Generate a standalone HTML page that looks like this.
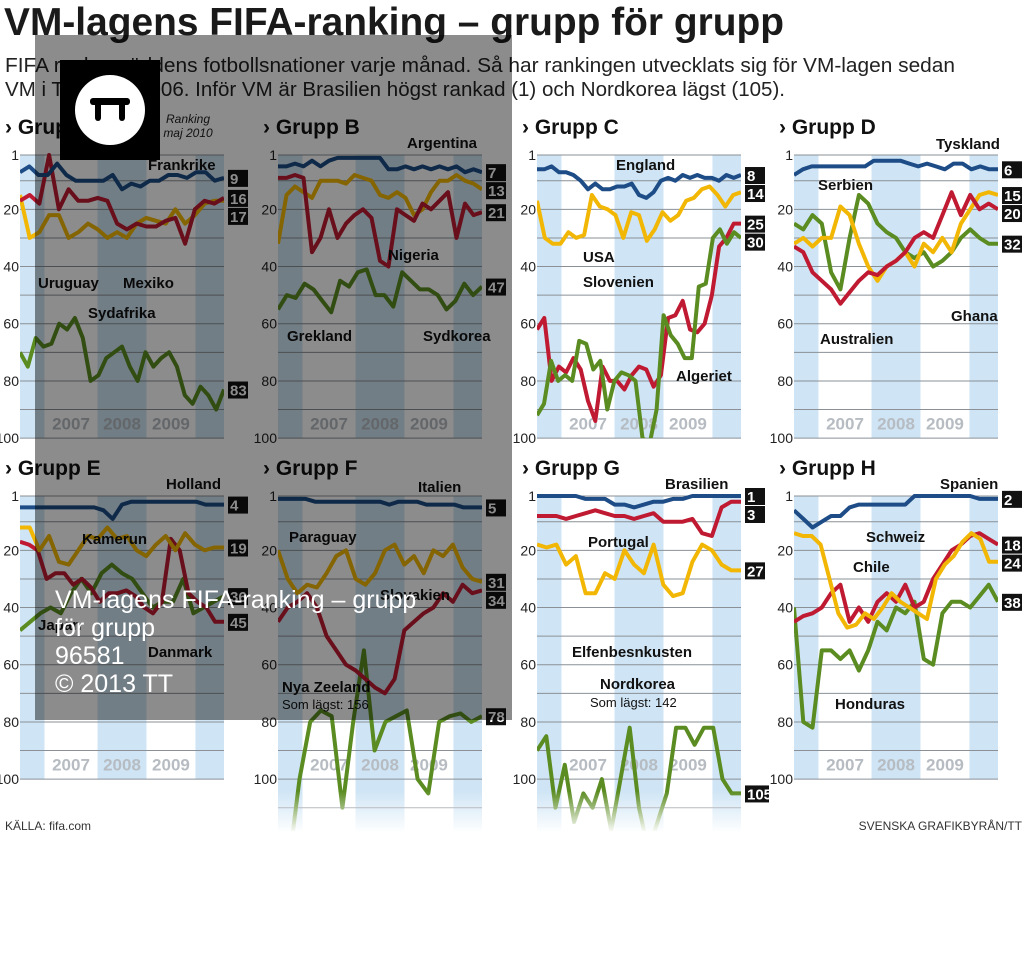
<!DOCTYPE html>
<html><head><meta charset="utf-8"><style>
body{margin:0;background:#fff;}
svg{display:block;}
.t{font-family:"Liberation Sans Narrow","Liberation Sans",sans-serif;font-weight:bold;}
</style></head><body>
<svg id="s" width="1024" height="963" xmlns="http://www.w3.org/2000/svg">
<defs><linearGradient id="fade" x1="0" y1="0" x2="0" y2="1"><stop offset="0" stop-color="#fff" stop-opacity="0"/><stop offset="1" stop-color="#fff" stop-opacity="1"/></linearGradient></defs>
<text x="4" y="35" font-family="Liberation Sans,sans-serif" font-weight="bold" font-size="39" fill="#1a1a1a" textLength="780" lengthAdjust="spacingAndGlyphs">VM-lagens FIFA-ranking – grupp för grupp</text>
<text x="5" y="72" font-family="Liberation Sans,sans-serif" font-size="20" fill="#222" textLength="950" lengthAdjust="spacingAndGlyphs">FIFA rankar världens fotbollsnationer varje månad. Så har rankingen utvecklats sig för VM-lagen sedan</text>
<text x="5" y="96" font-family="Liberation Sans,sans-serif" font-size="20" fill="#222" textLength="780" lengthAdjust="spacingAndGlyphs">VM i Tyskland 2006. Inför VM är Brasilien högst rankad (1) och Nordkorea lägst (105).</text>
<g id="g"></g>
<text x="5" y="830" font-family="Liberation Sans,sans-serif" font-size="12" fill="#333">KÄLLA: fifa.com</text>
<text x="1022" y="830" text-anchor="end" font-family="Liberation Sans,sans-serif" font-size="12" fill="#333">SVENSKA GRAFIKBYRÅN/TT</text>
<rect x="35" y="35" width="477" height="685" fill="#000" fill-opacity="0.45"/>
<rect x="60" y="60" width="100" height="100" fill="#000"/>
<circle cx="110" cy="110" r="35" fill="#fff"/>
<rect x="90" y="98" width="40" height="7" rx="3" fill="#000"/>
<rect x="95" y="101" width="6" height="20" rx="3" fill="#000"/>
<rect x="119" y="101" width="6" height="20" rx="3" fill="#000"/>
<g font-family="Liberation Sans,sans-serif" font-size="25" fill="#fff">
<text x="55" y="608">VM-lagens FIFA-ranking – grupp</text>
<text x="55" y="636">för grupp</text>
<text x="55" y="664">96581</text>
<text x="55" y="692">© 2013 TT</text></g>
</svg>
<script>
const C={b:"#1d4c86",r:"#bf1a32",y:"#f2b705",g:"#5b8c21"};
const P=[
{n:"A",x:20,y:0,ext:0,s:[
["y",[15,30,28,22,22,30,28,25,27,30,28,30,25,23,24,25,20,25,22,18,17,17]],
["r",[17,15,18,1,20,13,17,17,16,17,25,27,25,26,26,24,23,32,20,17,18,16]],
["b",[7,5,8,8,4,8,10,10,10,10,8,13,11,12,10,10,8,8,9,7,7,10,9]],
["g",[70,75,65,68,67,60,62,58,65,80,78,72,70,68,75,80,70,75,72,70,75,85,88,82,85,90,83]]],
L:[[9,"b"],[16,"r"],[17,"y"],[83,"g"]],
T:[["Frankrike",148,170],["Uruguay",38,288],["Mexiko",123,288],["Sydafrika",88,318]]},
{n:"B",x:278,y:0,ext:0,s:[
["y",[32,15,12,14,16,10,10,10,11,8,9,10,15,16,14,16,22,20,14,10,10,8,10,11,13]],
["r",[9,9,8,9,35,30,20,30,25,22,20,23,38,40,20,22,24,18,20,17,14,30,18,22,21]],
["b",[5,5,4,5,3,5,3,2,2,2,2,2,2,6,6,5,6,5,6,5,6,5,7,6,7]],
["g",[55,50,51,46,48,52,56,45,47,42,41,50,50,54,42,45,48,48,50,55,52,46,50,47]]],
L:[[7,"b"],[13,"y"],[21,"r"],[47,"g"]],
T:[["Argentina",407,148],["Grekland",287,341],["Nigeria",388,260],["Sydkorea",423,341]]},
{n:"C",x:537,y:0,ext:0,s:[
["r",[62,58,80,75,77,72,76,87,94,75,80,80,83,78,75,76,82,78,58,57,52,62,63,60,50,33,30,25,25]],
["g",[92,88,73,80,78,80,66,67,76,73,90,80,77,78,80,100,102,90,57,64,67,72,72,47,46,30,27,32,28,30]],
["y",[17,30,32,32,28,30,29,15,19,20,22,30,21,22,31,27,21,24,22,17,16,13,12,15,19,15,14]],
["b",[6,6,5,7,7,8,10,13,11,13,13,12,12,11,15,16,14,10,9,10,8,9,8,9,9,10,8,9,8]]],
L:[[8,"b"],[14,"y"],[25,"r"],[30,"g"]],
T:[["England",616,170],["USA",583,262],["Slovenien",583,287],["Algeriet",676,381]]},
{n:"D",x:794,y:0,ext:0,s:[
["g",[25,27,22,25,42,48,30,15,18,25,28,30,35,37,35,40,38,35,30,27,30,32,32]],
["y",[32,30,33,30,30,19,22,32,40,45,40,38,35,40,32,35,30,35,25,20,15,14,15]],
["r",[33,35,42,45,48,53,49,45,42,43,40,38,35,30,28,30,22,14,22,15,20,18,20]],
["b",[8,6,5,5,5,5,5,5,5,3,3,3,3,4,5,4,5,6,4,4,6,5,6,6]]],
L:[[6,"b"],[15,"y"],[20,"r"],[32,"g"]],
T:[["Tyskland",936,149],["Serbien",818,190],["Australien",820,344],["Ghana",951,321]]},
{n:"E",x:20,y:341,ext:0,s:[
["g",[48,45,42,40,42,35,30,35,28,25,28,30,35,40,38,38,30,42,40,38,36]],
["r",[17,18,20,30,28,28,32,30,33,38,35,35,34,36,40,42,38,16,20,35,38,40,45,45]],
["y",[12,12,20,15,24,25,20,15,16,12,16,15,20,22,18,15,20,14,18,20,19,19]],
["b",[5,5,5,5,5,5,5,5,5,6,9,4,3,3,3,3,3,3,3,3,4,4,4]]],
L:[[4,"b"],[19,"y"],[36,"g"],[45,"r"]],
T:[["Holland",166,489],["Kamerun",82,544],["Japan",38,630],["Danmark",148,657]]},
{n:"F",x:278,y:341,ext:1,s:[
["g",[120,130,100,80,76,78,110,80,55,90,80,78,76,100,105,80,78,77,80,78]],
["r",[45,40,38,35,40,50,55,60,62,65,68,70,65,48,45,42,40,35,38,32,35,34]],
["y",[20,30,35,32,33,28,22,20,30,32,28,20,18,25,22,28,20,22,18,26,30,31]],
["b",[2,2,2,2,3,3,3,3,3,3,3,3,4,3,3,3,4,4,4,4,5,5,5]]],
L:[[5,"b"],[31,"y"],[34,"r"],[78,"g"]],
T:[["Italien",418,492],["Paraguay",289,542],["Slovakien",380,600],["Nya Zeeland",282,692]],
N:[["Som lägst: 156",282,709]]},
{n:"G",x:537,y:341,ext:1,s:[
["g",[90,85,110,95,115,105,110,100,118,100,82,110,125,115,105,82,82,88,82,82,100,105,105]],
["y",[18,19,18,25,22,35,35,28,30,20,25,28,18,32,36,35,24,18,20,25,27,27]],
["r",[8,8,8,9,8,7,6,7,8,8,9,8,7,10,10,10,9,14,15,5,3,3]],
["b",[1,1,1,1,1,2,2,2,4,4,5,4,3,3,2,2,1,1,1,1,1,1]]],
L:[[1,"b"],[3,"r"],[27,"y"],[105,"g"]],
T:[["Brasilien",665,489],["Portugal",588,547],["Elfenbesnkusten",572,657],["Nordkorea",600,689]],
N:[["Som lägst: 142",590,707]]},
{n:"H",x:794,y:341,ext:0,s:[
["g",[40,80,82,55,55,58,55,62,55,45,48,40,42,38,58,60,42,38,38,40,36,32,38]],
["r",[45,43,42,40,35,32,45,40,45,38,35,38,32,40,38,30,25,20,18,15,14,16,18]],
["y",[14,15,15,18,30,42,47,46,42,44,40,35,38,40,42,44,30,25,22,17,14,16,24,24]],
["b",[6,9,12,10,8,8,5,4,4,4,4,4,4,1,1,1,1,1,1,1,2,2,2]]],
L:[[2,"b"],[18,"r"],[24,"y"],[38,"g"]],
T:[["Spanien",940,489],["Schweiz",866,542],["Chile",853,572],["Honduras",835,709]]}
];
const W=204,Y0=155,K=2.86;let h="";
for(const p of P){
 const x=p.x,oy=p.y,yr=r=>Y0+oy+(r-1)*K;
 const bot=p.ext?yr(100)+52:yr(100);
 h+=`<g><clipPath id="c${p.n}"><rect x="${x}" y="${Y0+oy-8}" width="${W}" height="${bot-Y0-oy+8}"/></clipPath>`;
 for(const [a,b] of [[0,.12],[.38,.62],[.86,1]])h+=`<rect x="${x+a*W}" y="${Y0+oy}" width="${(b-a)*W}" height="${bot-Y0-oy}" fill="#cfe5f5"/>`;
 for(let r=1;r<=(p.ext?110:100);r+=(r==1?9:10))h+=`<line x1="${x}" x2="${x+W}" y1="${yr(r)}" y2="${yr(r)}" stroke="#8a9096" stroke-width="1"/>`;
 [["1",1],["20",20],["40",40],["60",60],["80",80],["100",100]].forEach(([t,r])=>h+=`<text x="${x-1}" y="${yr(r)+5}" text-anchor="end" font-family="Liberation Sans Narrow,Liberation Sans,sans-serif" font-size="14" fill="#222">${t}</text>`);
 ["2007","2008","2009"].forEach((t,i)=>h+=`<text class="t" x="${x+[.25,.5,.74][i]*W}" y="${yr(97)}" text-anchor="middle" font-size="17" fill="#b6bcc2">${t}</text>`);
 for(const [c,d] of p.s){const n=d.length;h+=`<polyline clip-path="url(#c${p.n})" fill="none" stroke="${C[c]}" stroke-width="4" stroke-linejoin="round" points="${d.map((v,i)=>(x+i*W/(n-1)).toFixed(1)+","+yr(v).toFixed(1)).join(" ")}"/>`;}
 if(p.ext)h+=`<rect x="${x-2}" y="${bot-40}" width="${W+4}" height="42" fill="url(#fade)"/>`;
 let last=-99;for(const [v,c] of p.L){let yy=Math.max(yr(v),last+18);last=yy;h+=`<rect x="${x+W+4}" y="${yy-8}" width="${String(v).length>2?24:20}" height="17" fill="#111"/><text class="t" x="${x+W+6}" y="${yy+6}" font-size="15" fill="#fff">${v}</text>`;}
 h+=`<text class="t" x="${x-15}" y="${134+oy}" font-size="21" fill="#111">› Grupp ${p.n}</text>`;
 for(const [t,a,b] of p.T)h+=`<text class="t" x="${a}" y="${b}" font-size="15" fill="#111">${t}</text>`;
 for(const [t,a,b] of (p.N||[]))h+=`<text x="${a}" y="${b}" font-family="Liberation Sans Narrow,Liberation Sans,sans-serif" font-size="13" fill="#111">${t}</text>`;
 h+="</g>";
}
h+=`<text x="188" y="123" text-anchor="middle" font-style="italic" font-family="Liberation Sans Narrow,Liberation Sans,sans-serif" font-size="12" fill="#222">Ranking</text><text x="188" y="137" text-anchor="middle" font-style="italic" font-family="Liberation Sans Narrow,Liberation Sans,sans-serif" font-size="12" fill="#222">maj 2010</text>`;
document.getElementById("g").innerHTML=h;
</script>
</body></html>
